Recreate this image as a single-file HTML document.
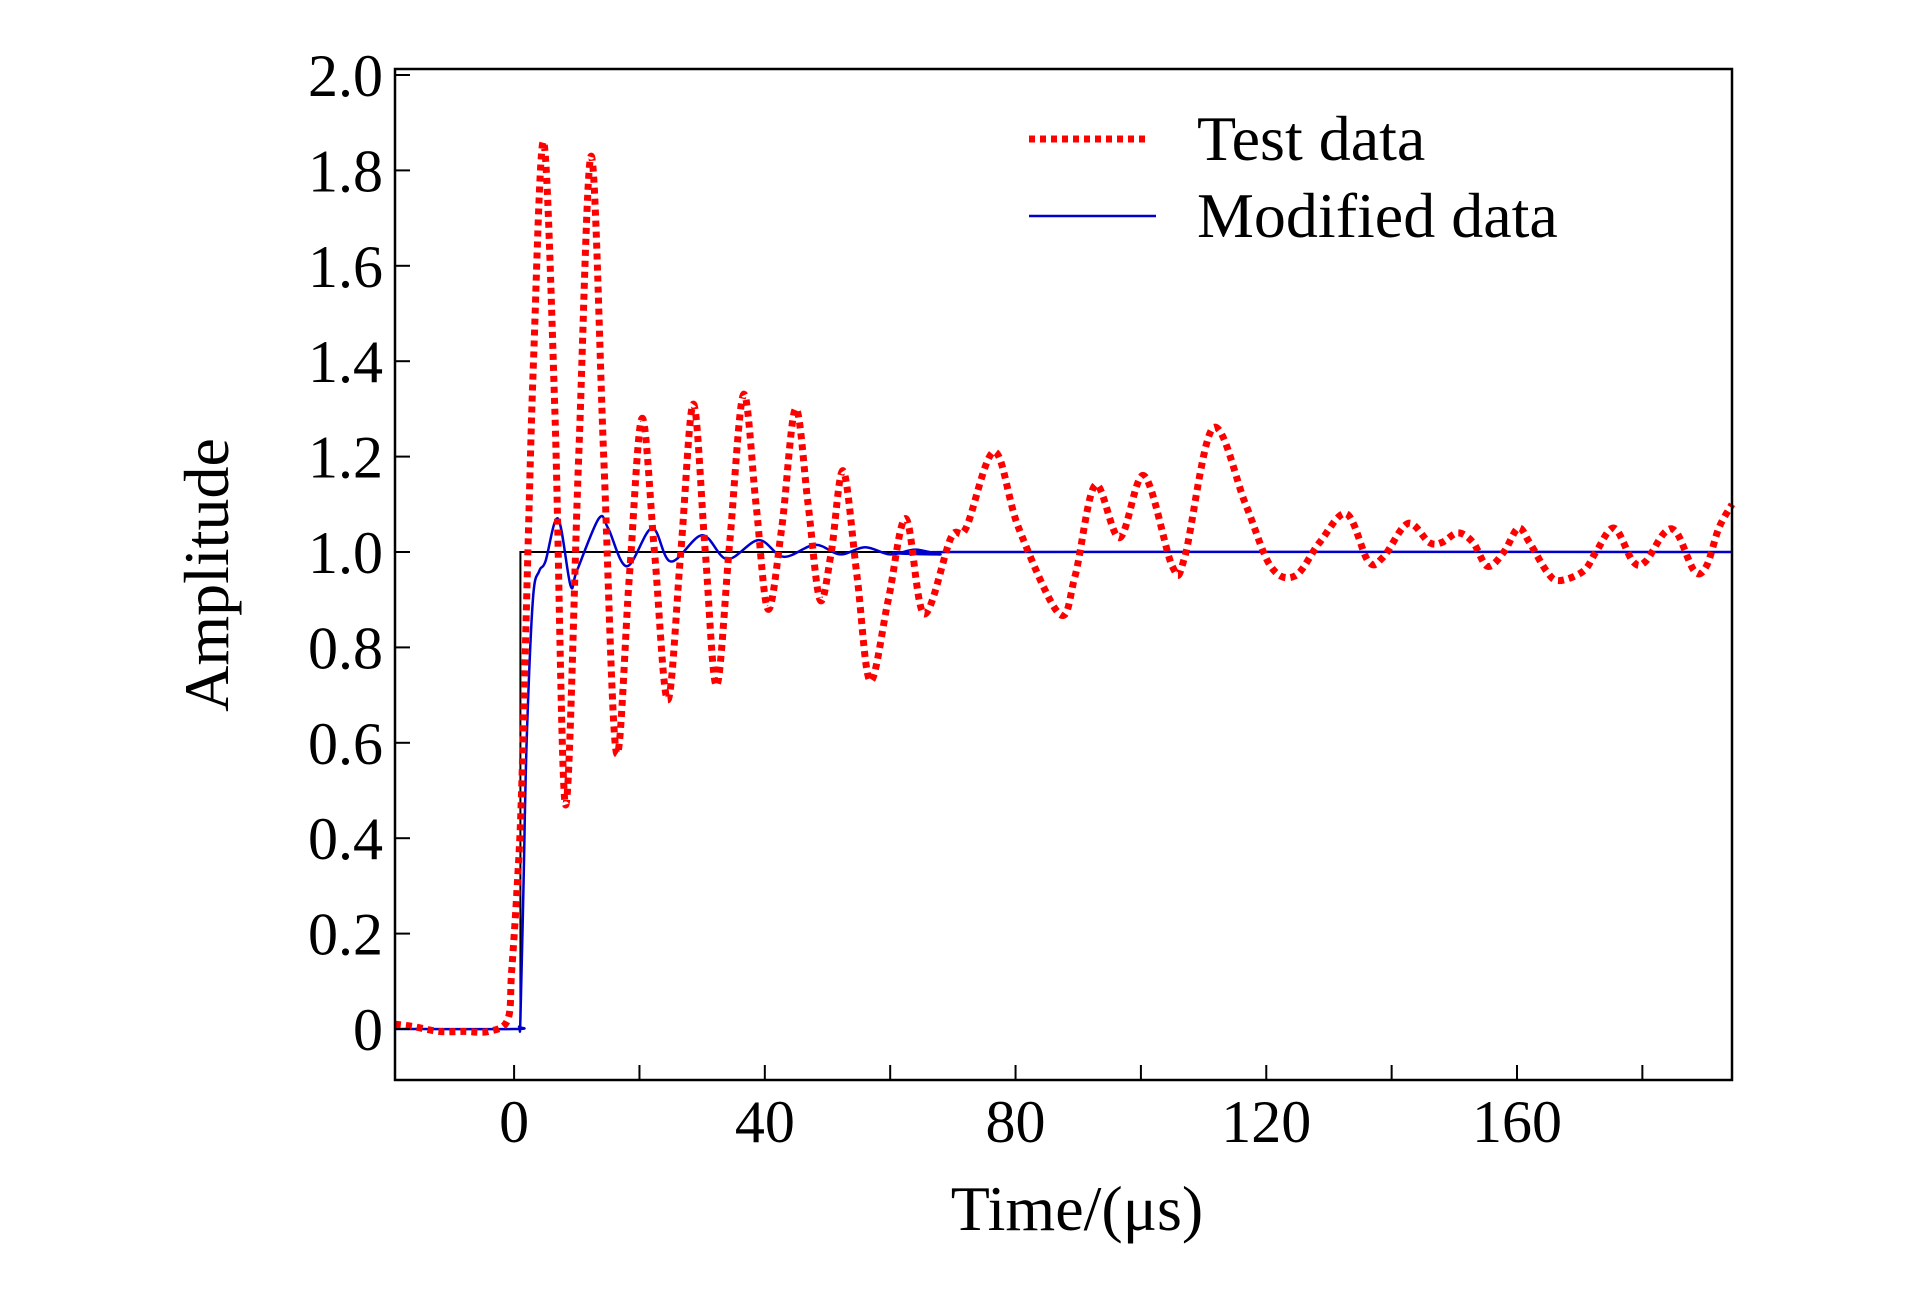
<!DOCTYPE html>
<html><head><meta charset="utf-8"><style>
html,body{margin:0;padding:0;background:#fff;}
svg{display:block;font-family:"Liberation Serif",serif;}
</style></head><body>
<svg id="chart" width="1923" height="1299" viewBox="0 0 1923 1299" xmlns="http://www.w3.org/2000/svg">
<rect x="0" y="0" width="1923" height="1299" fill="#fff"/>
<g id="plot"></g>
</svg>
<script>
const testT=[-19,-16,-12,-8,-4,-1,-0.4,0.5,1.2,2.2,3.1,4.7,6.5,8.2,10.3,12.3,14.3,16.3,18.4,20.4,22.4,24.5,26.6,28.6,30.5,32.3,34.4,36.6,38.6,40.5,42.7,44.9,46.9,48.8,50.6,52.5,54.7,56.8,59.7,62.5,65.4,69.7,72.1,76.6,80.5,87,89.5,92.7,96.6,100.5,105,107,111.5,116.7,120.7,124.6,128.5,132.8,136.3,138.7,142.6,146,148,150.6,153,155.3,157.9,160.2,162,164.7,166.7,170.6,172.6,175.5,178.5,180.5,183.5,185.5,188.3,190.2,192.2,194.3];
const testV=[0.01,0.005,-0.005,-0.005,-0.005,0.02,0.12,0.3,0.5,1.0,1.4,1.86,1.3,0.47,1.2,1.83,1.2,0.58,0.95,1.28,1.0,0.69,1.0,1.31,1.0,0.72,1.02,1.33,1.1,0.88,1.05,1.30,1.1,0.90,1.0,1.17,0.95,0.73,0.9,1.07,0.87,1.03,1.05,1.21,1.05,0.87,0.95,1.14,1.03,1.16,0.97,0.99,1.26,1.1,0.97,0.95,1.02,1.08,0.98,0.99,1.06,1.02,1.02,1.04,1.02,0.97,1.0,1.05,1.02,0.96,0.94,0.96,1.0,1.05,0.98,0.98,1.04,1.04,0.96,0.97,1.05,1.1];
const modT=[-19,0,0.8,1,1.5,2,3,4,5,7,9,10,13.5,15,18,22,25,30,34,39,43,48,52,56,60,64,68,70,194.3];
const modV=[0,0,0.005,0.02,0.3,0.6,0.9,0.96,0.98,1.07,0.93,0.96,1.07,1.05,0.97,1.05,0.98,1.035,0.985,1.025,0.99,1.015,0.995,1.01,0.995,1.005,0.995,1.0,1.0];
const stepT=[-19,1,1,194.3];
const stepV=[0,0,1,1];
const yTicks=[0,0.2,0.4,0.6,0.8,1.0,1.2,1.4,1.6,1.8,2.0];
const yTickLabels=["0","0.2","0.4","0.6","0.8","1.0","1.2","1.4","1.6","1.8","2.0"];
const xTicks=[0,20,40,60,80,100,120,140,160,180];
const xTickLabels=["0","40","80","120","160"];
const xLabelVals=[0,40,80,120,160];

const L=395,R=1732,T=69,B=1080;
const xMin=-19,xMax=194.3;
function sx(t){return L+(t-xMin)/(xMax-xMin)*(R-L);}
function sy(v){return 1029-v*477;}
const NS="http://www.w3.org/2000/svg";
const g=document.getElementById('plot');
function mk(tag,attrs){const e=document.createElementNS(NS,tag);for(const k in attrs)e.setAttribute(k,attrs[k]);g.appendChild(e);return e;}
function linePath(ts,vs){return ts.map((t,i)=>(i?'L':'M')+sx(t).toFixed(1)+','+sy(vs[i]).toFixed(1)).join(' ');}
function smoothPath(ts,vs){const p=ts.map((t,i)=>[sx(t),sy(vs[i])]);let d='M'+p[0][0]+','+p[0][1];
 for(let i=0;i<p.length-1;i++){const p0=p[Math.max(0,i-1)],p1=p[i],p2=p[i+1],p3=p[Math.min(p.length-1,i+2)];
 const c1=[p1[0]+(p2[0]-p0[0])/6,p1[1]+(p2[1]-p0[1])/6],c2=[p2[0]-(p3[0]-p1[0])/6,p2[1]-(p3[1]-p1[1])/6];
 d+=' C'+c1[0].toFixed(1)+','+c1[1].toFixed(1)+' '+c2[0].toFixed(1)+','+c2[1].toFixed(1)+' '+p2[0].toFixed(1)+','+p2[1].toFixed(1);}return d;}

let e;
e=mk('path',{d:linePath(stepT,stepV),fill:'none',stroke:'#000','stroke-width':2});


e=mk('path',{d:smoothPath(modT,modV),fill:'none',stroke:'#0000cc','stroke-width':2.5});


e=mk('path',{d:smoothPath(testT,testV),fill:'none',stroke:'#ff0000','stroke-width':7,'stroke-dasharray':'6 5'});



e=mk('rect',{x:L,y:T,width:R-L,height:B-T,fill:'none',stroke:'#000','stroke-width':2.5});



yTicks.forEach((v,i)=>{
 e=mk('line',{x1:L,x2:L+15,y1:sy(v),y2:sy(v),stroke:'#000','stroke-width':2});
 
 
 e=mk('text',{x:383,y:sy(v)+21,'text-anchor':'end','font-size':60});
 e.textContent=yTickLabels[i];
 
 
});
xTicks.forEach(t=>{
 e=mk('line',{x1:sx(t),x2:sx(t),y1:B,y2:B-15,stroke:'#000','stroke-width':2});
 
 
});
xLabelVals.forEach((t,i)=>{
 e=mk('text',{x:sx(t),y:1142,'text-anchor':'middle','font-size':60});
 e.textContent=xTickLabels[i];
 
 
});
e=mk('text',{x:1077,y:1230,'text-anchor':'middle','font-size':64});
e.textContent='Time/(\u03bcs)';


e=mk('text',{x:0,y:0,'text-anchor':'middle','font-size':64,transform:'translate(228,575) rotate(-90)'});
e.textContent='Amplitude';



e=mk('line',{x1:1029,x2:1150,y1:139,y2:139,stroke:'#ff0000','stroke-width':7,'stroke-dasharray':'6 5'});


e=mk('text',{x:1197,y:160,'font-size':64});
e.textContent='Test data';


e=mk('line',{x1:1029,x2:1156,y1:216,y2:216,stroke:'#0000cc','stroke-width':2.5});


e=mk('text',{x:1197,y:237,'font-size':64});
e.textContent='Modified data';


</script>
</body></html>
